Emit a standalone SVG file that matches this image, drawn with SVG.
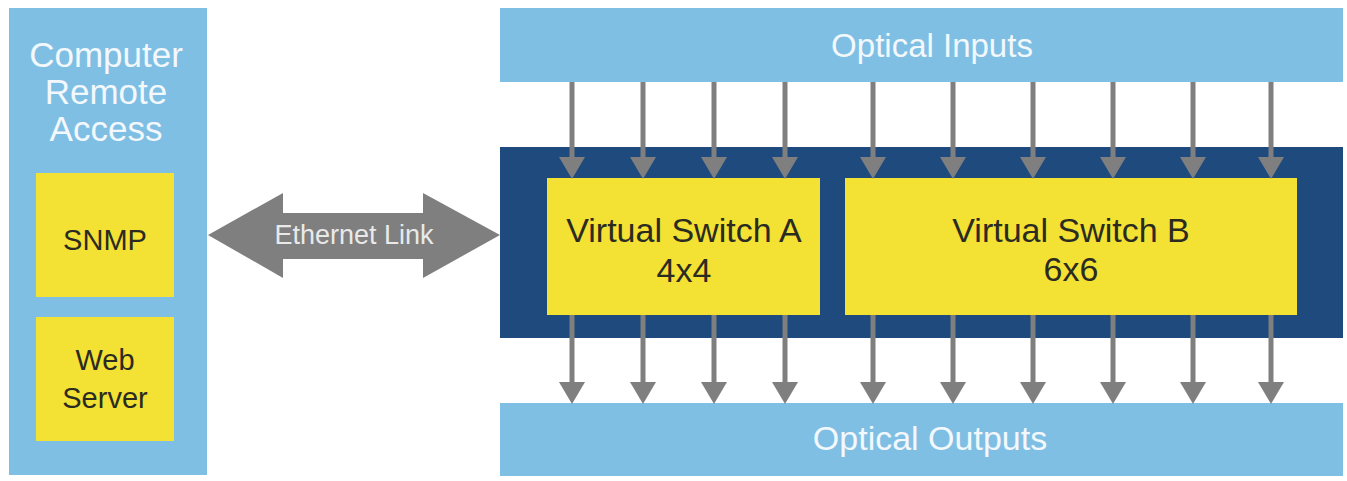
<svg xmlns="http://www.w3.org/2000/svg" width="1347" height="481" viewBox="0 0 1347 481">
<style>
.lb{fill:#80bfe4}
.nv{fill:#1f4a7d}
.yl{fill:#f3e133}
.wt{font-family:"Liberation Sans",Arial,sans-serif;fill:#f2f8fc;text-anchor:middle}
.dk{font-family:"Liberation Sans",Arial,sans-serif;fill:#2b2b22;text-anchor:middle}
.ar{stroke:#7f7f7f;stroke-width:5;fill:none}
</style>
<defs>
<marker id="ah" markerUnits="userSpaceOnUse" markerWidth="22" markerHeight="26" refX="0" refY="13" orient="auto" viewBox="0 0 22 26">
<path d="M0,0 L22,13 L0,26 Z" fill="#7f7f7f"/>
</marker>
</defs>
<rect width="1347" height="481" fill="#ffffff"/>

<g id="remote-access">
<rect class="lb" x="9" y="8" width="198" height="467"/>
<text class="wt" x="106" y="67" font-size="35">Computer</text>
<text class="wt" x="106" y="104" font-size="35">Remote</text>
<text class="wt" x="106" y="141" font-size="35">Access</text>
</g>
<g id="snmp">
<rect class="yl" x="36" y="173" width="138" height="124"/>
<text class="dk" x="105" y="250" font-size="29">SNMP</text>
</g>
<g id="web-server">
<rect class="yl" x="36" y="317" width="138" height="124"/>
<text class="dk" x="105" y="370" font-size="29">Web</text>
<text class="dk" x="105" y="408" font-size="29">Server</text>
</g>

<g id="optical-inputs">
<rect class="lb" x="500" y="8" width="843" height="74"/>
<text class="wt" x="932" y="57" font-size="33">Optical Inputs</text>
</g>
<g id="chassis">
<rect class="nv" x="500" y="147" width="843" height="191"/>
</g>
<g id="switch-a">
<rect class="yl" x="547" y="178" width="273" height="137"/>
<text class="dk" x="684" y="242" font-size="34">Virtual Switch A</text>
<text class="dk" x="684" y="282" font-size="34">4x4</text>
</g>
<g id="switch-b">
<rect class="yl" x="845" y="178" width="452" height="137"/>
<text class="dk" x="1071" y="242" font-size="34">Virtual Switch B</text>
<text class="dk" x="1071" y="281" font-size="34">6x6</text>
</g>
<g id="optical-outputs">
<rect class="lb" x="500" y="403" width="843" height="73"/>
<text class="wt" x="930" y="450" font-size="34">Optical Outputs</text>
</g>

<g id="connectors">
<g id="ethernet-link">
<path d="M208,235 L283,193 L283,213 L423,213 L423,193 L500,235 L423,278 L423,259 L283,259 L283,278 Z" fill="#7f7f7f"/>
<text x="354" y="244" font-size="27" font-family="Liberation Sans,Arial,sans-serif" fill="#e9e9e9" text-anchor="middle">Ethernet Link</text>
</g>
<g id="inputs">
<line class="ar" x1="572" y1="82" x2="572" y2="157" marker-end="url(#ah)"/>
<line class="ar" x1="643" y1="82" x2="643" y2="157" marker-end="url(#ah)"/>
<line class="ar" x1="714" y1="82" x2="714" y2="157" marker-end="url(#ah)"/>
<line class="ar" x1="785" y1="82" x2="785" y2="157" marker-end="url(#ah)"/>
<line class="ar" x1="873" y1="82" x2="873" y2="157" marker-end="url(#ah)"/>
<line class="ar" x1="953" y1="82" x2="953" y2="157" marker-end="url(#ah)"/>
<line class="ar" x1="1033" y1="82" x2="1033" y2="157" marker-end="url(#ah)"/>
<line class="ar" x1="1113" y1="82" x2="1113" y2="157" marker-end="url(#ah)"/>
<line class="ar" x1="1193" y1="82" x2="1193" y2="157" marker-end="url(#ah)"/>
<line class="ar" x1="1271" y1="82" x2="1271" y2="157" marker-end="url(#ah)"/>
</g>
<g id="outputs">
<line class="ar" x1="572" y1="315" x2="572" y2="382" marker-end="url(#ah)"/>
<line class="ar" x1="643" y1="315" x2="643" y2="382" marker-end="url(#ah)"/>
<line class="ar" x1="714" y1="315" x2="714" y2="382" marker-end="url(#ah)"/>
<line class="ar" x1="785" y1="315" x2="785" y2="382" marker-end="url(#ah)"/>
<line class="ar" x1="873" y1="315" x2="873" y2="382" marker-end="url(#ah)"/>
<line class="ar" x1="953" y1="315" x2="953" y2="382" marker-end="url(#ah)"/>
<line class="ar" x1="1033" y1="315" x2="1033" y2="382" marker-end="url(#ah)"/>
<line class="ar" x1="1113" y1="315" x2="1113" y2="382" marker-end="url(#ah)"/>
<line class="ar" x1="1193" y1="315" x2="1193" y2="382" marker-end="url(#ah)"/>
<line class="ar" x1="1271" y1="315" x2="1271" y2="382" marker-end="url(#ah)"/>
</g>
</g>
</svg>
